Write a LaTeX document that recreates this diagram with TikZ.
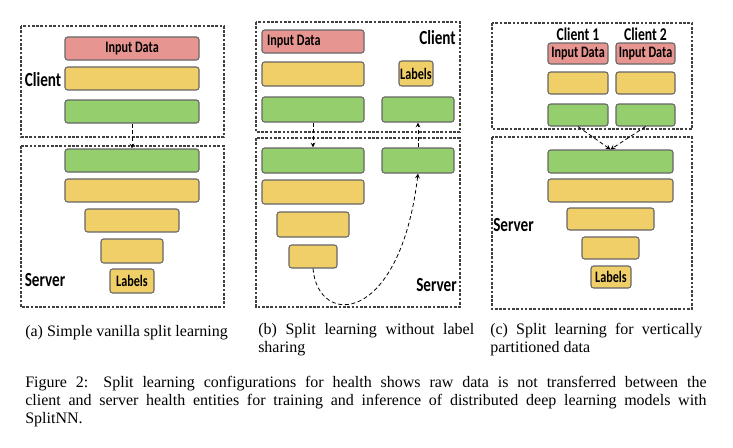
\documentclass[tikz,border=0pt]{standalone}
\usepackage{fontspec}
\setmainfont{Liberation Serif}
\newfontfamily\boxfont[FakeStretch=0.76]{Carlito}
\usepackage{tikz}
\usetikzlibrary{arrows,fit,positioning}
\definecolor{indata}{RGB}{231,149,145}
\definecolor{hidden}{RGB}{241,207,104}
\definecolor{cutlay}{RGB}{149,206,108}

\begin{document}
\begin{tikzpicture}[x=0.75pt,y=-0.75pt,
  lay/.style={draw=gray!80!black, line width=0.8pt, rounded corners=2pt, inner sep=0pt},
  inp/.style={lay, fill=indata},
  hid/.style={lay, fill=hidden},
  cut/.style={lay, fill=cutlay},
  word/.style={font=\boxfont\bfseries\fontsize{12}{12}\selectfont, inner sep=0pt},
  txt/.style={label={[word]center:#1}},
  frame/.style={draw=black!75, line width=1pt, dash pattern=on 2pt off 1.2pt},
  side/.style={font=\boxfont\bfseries\fontsize{15}{15}\selectfont, inner sep=0pt},
  flow/.style={->, >=stealth, densely dashed, line width=0.6pt},
  captext/.style={font=\fontsize{12}{13.4}\selectfont, inner sep=0pt, align=justify}]
\useasboundingbox (0,0) rectangle (733,447);
% (a) vanilla
\draw[frame] (21,26) rectangle (224,137);
\draw[frame] (21,146) rectangle (224,307);
\node[inp, fit={(65,37) (199,60)}, txt=Input Data] (a1) {};
\node[hid, fit={(65,67) (199,90)}] (a2) {};
\node[cut, fit={(65,100) (199,123)}] (a3) {};
\node[cut, fit={(65,149) (199,172)}] (a4) {};
\node[hid, fit={(65,179) (199,202)}] (a5) {};
\node[hid, fit={(85,209) (179,232)}] (a6) {};
\node[hid, fit={(101,239) (163,263)}] (a7) {};
\node[hid, fit={(110,269) (154,293)}, txt=Labels] (a8) {};
\node[side] (aclient) at (43,80) {Client};
\node[side] (aserver) at (45,280) {Server};
\draw[flow] (a3) -- (a4);
% (b) no label sharing
\draw[frame] (256,22) rectangle (460,132);
\draw[frame] (256,138) rectangle (460,307);
\node[inp, fit={(262,30) (364,53)}] (b1) {};
\node[word, right=4pt of b1.west] (b1t) {Input Data};
\node[hid, fit={(262,62) (364,86)}] (b2) {};
\node[cut, fit={(262,97) (364,122)}] (b3) {};
\node[hid, fit={(399,61) (433,86)}, txt=Labels] (b10) {};
\node[cut, fit={(382,97) (454,122)}] (b9) {};
\node[cut, fit={(262,148) (364,173)}] (b4) {};
\node[cut, fit={(382,148) (454,173)}] (b8) {};
\node[hid, fit={(262,180) (364,204)}] (b5) {};
\node[hid, fit={(277,212) (349,237)}] (b6) {};
\node[hid, fit={(289,245) (337,268)}] (b7) {};
\node[side, anchor=east] (bclient) at (456,38) {Client};
\node[side, anchor=east] (bserver) at (457,285) {Server};
\draw[flow] (b3) -- (b4);
\draw[flow] (b8) -- (b9);
\draw[flow] (b7.south) .. controls (318,328) and (400,325) .. (b8.south);
% (c) vertically partitioned
\draw[frame] (492,23) rectangle (692,129);
\draw[frame] (492,137) rectangle (692,309);
\node[inp, fit={(548,43) (608,64)}, txt=Input Data] (c1) {};
\node[inp, fit={(616,43) (675,64)}, txt=Input Data] (d1) {};
\node[hid, fit={(548,72) (608,94)}] (c2) {};
\node[hid, fit={(616,72) (675,94)}] (d2) {};
\node[cut, fit={(548,104) (608,126)}] (c3) {};
\node[cut, fit={(616,104) (675,126)}] (d3) {};
\node[cut, fit={(548,150) (673,173)}] (c4) {};
\node[hid, fit={(548,179) (673,202)}] (c5) {};
\node[hid, fit={(567,208) (654,230)}] (c6) {};
\node[hid, fit={(582,237) (639,259)}] (c7) {};
\node[hid, fit={(591,266) (631,288)}, txt=Labels] (c8) {};
\node[side, font=\boxfont\bfseries\fontsize{13.5}{13.5}\selectfont, above=1pt of c1] (cclient1) {Client 1};
\node[side, font=\boxfont\bfseries\fontsize{13.5}{13.5}\selectfont, above=1pt of d1] (cclient2) {Client 2};
\node[side, anchor=west] (cserver) at (493,225) {Server};
\draw[flow] (c3.south) -- (c4.north);
\draw[flow] (d3.south) -- (c4.north);
% captions
\node[captext, anchor=base west] (capa) at (25,336) {(a) Simple vanilla split learning};
\node[captext, text width=162pt, anchor=north west] (capb) at (258,323) {(b) Split learning without label\linebreak sharing};
\node[captext, text width=159pt, anchor=north west] (capc) at (490,323) {(c) Split learning for vertically\linebreak partitioned data};
\node[captext, text width=511pt, anchor=north west] (capfig) at (25,376) {Figure 2: Split learning configurations for health shows raw data is not transferred between the\linebreak client and server health entities for training and inference of distributed deep learning models with\linebreak SplitNN.};
\end{tikzpicture}
\end{document}
